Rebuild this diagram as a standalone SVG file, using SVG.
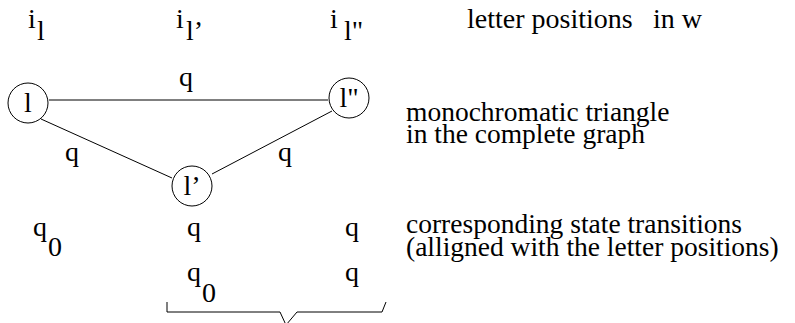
<svg xmlns="http://www.w3.org/2000/svg" width="795" height="323" viewBox="0 0 795 323">
<rect width="795" height="323" fill="#fff"/>
<g id="positions">
<text x="28" y="28" font-family="Liberation Serif" font-size="28">i</text><text x="37" y="40" font-family="Liberation Serif" font-size="28">l</text>
<text x="176" y="28" font-family="Liberation Serif" font-size="28">i</text><text x="186" y="40" font-family="Liberation Serif" font-size="28">l&#8217;</text>
<text x="330" y="28" font-family="Liberation Serif" font-size="28">i</text><text x="344" y="40" font-family="Liberation Serif" font-size="28">l&quot;</text>
<text x="467" y="28" font-family="Liberation Serif" font-size="28">letter positions</text><text x="653" y="28" font-family="Liberation Serif" font-size="28">in w</text>
</g>
<g id="connectors" fill="none" stroke="#000" stroke-width="1">
<line x1="49" y1="100" x2="328" y2="100"/>
<line x1="41" y1="119" x2="172" y2="178"/>
<line x1="332" y1="111" x2="212" y2="174"/>
</g>
<g id="edge-labels">
<text x="186" y="86" font-family="Liberation Serif" font-size="28" text-anchor="middle">q</text>
<text x="72" y="161" font-family="Liberation Serif" font-size="28" text-anchor="middle">q</text>
<text x="285" y="161" font-family="Liberation Serif" font-size="28" text-anchor="middle">q</text>
</g>
<g id="node-l">
<circle cx="28" cy="103" r="20" fill="#fff" stroke="#000" stroke-width="1"/>
<text x="28" y="112" font-family="Liberation Serif" font-size="28" text-anchor="middle">l</text>
</g>
<g id="node-l2">
<circle cx="349" cy="98" r="20" fill="#fff" stroke="#000" stroke-width="1"/>
<text x="349" y="107" font-family="Liberation Serif" font-size="28" text-anchor="middle">l&quot;</text>
</g>
<g id="node-l1">
<circle cx="192" cy="186" r="20" fill="#fff" stroke="#000" stroke-width="1"/>
<text x="192" y="195" font-family="Liberation Serif" font-size="28" text-anchor="middle">l&#8217;</text>
</g>
<g id="graph-caption">
<text x="406" y="121" font-family="Liberation Serif" font-size="27.5">monochromatic triangle</text>
<text x="406" y="143" font-family="Liberation Serif" font-size="27.5">in the complete graph</text>
</g>
<g id="states">
<text x="33" y="236" font-family="Liberation Serif" font-size="28">q</text><text x="48" y="256" font-family="Liberation Serif" font-size="28">0</text>
<text x="187" y="236" font-family="Liberation Serif" font-size="28">q</text>
<text x="345" y="236" font-family="Liberation Serif" font-size="28">q</text>
<text x="187" y="281" font-family="Liberation Serif" font-size="28">q</text><text x="202" y="302" font-family="Liberation Serif" font-size="28">0</text>
<text x="345" y="281" font-family="Liberation Serif" font-size="28">q</text>
</g>
<g id="state-caption">
<text x="406" y="233" font-family="Liberation Serif" font-size="27.5">corresponding state transitions</text>
<text x="406" y="256" font-family="Liberation Serif" font-size="27.5">(alligned with the letter positions)</text>
</g>
<g id="brace">
<polyline points="167,302 167,312 280,312 286,325 297,312 382,312 386,302" fill="none" stroke="#000" stroke-width="1"/>
</g>
</svg>
